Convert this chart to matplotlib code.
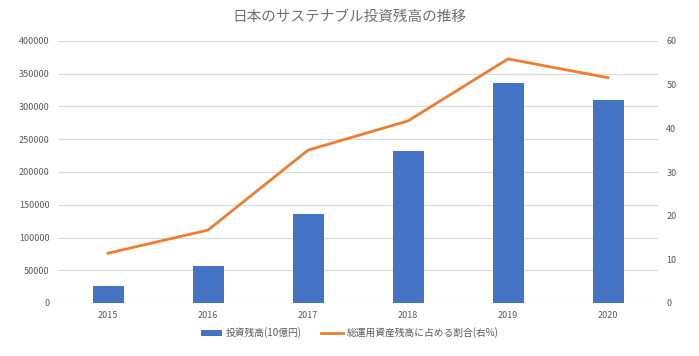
import matplotlib
matplotlib.use("Agg")
import matplotlib.pyplot as plt

plt.rcParams['font.family'] = ['Noto Sans CJK JP', 'DejaVu Sans']

years = ['2015', '2016', '2017', '2018', '2019', '2020']
invest = [26686, 56226, 136596, 231952, 336000, 310039]
share = [11.4, 16.7, 35.0, 41.7, 55.9, 51.6]

gray = '#595959'
fig = plt.figure(figsize=(6.99, 3.56), dpi=100)
ax = fig.add_axes([58/699, 1-303/356, 600/699, 262/356])
ax2 = ax.twinx()

x = list(range(len(years)))
b = ax.bar(x, invest, width=0.31, color='#4472C4', label='投資残高(10億円)', zorder=2)
l, = ax2.plot(x, share, color='#ED7D31', lw=2, label='総運用資産残高に占める割合(右%)', zorder=3)

ax.set_xlim(-0.5, 5.5)
ax.set_ylim(0, 400000)
ax.set_yticks(range(0, 400001, 50000))
ax2.set_ylim(0, 60)
ax2.set_yticks(range(0, 61, 10))
ax.set_xticks(x)
ax.set_xticklabels(years)
ax.grid(axis='y', color='#d9d9d9', lw=0.8, zorder=0)
ax.set_axisbelow(True)

for a in (ax, ax2):
    for s in a.spines.values():
        s.set_visible(False)
    a.tick_params(length=0, labelsize=6.5, labelcolor=gray)
ax.tick_params(axis='y', pad=6)
ax2.tick_params(axis='y', pad=6)
ax.tick_params(axis='x', pad=6)

fig.text(0.5, 1-17/356, '日本のサステナブル投資残高の推移', ha='center', va='center',
         fontsize=10.5, color='#707070')
fig.legend(handles=[b, l], loc='center', bbox_to_anchor=(0.5, 1-333/356), ncol=2,
           frameon=False, fontsize=7, labelcolor=gray, handlelength=2.2,
           handletextpad=0.4, columnspacing=2.0)

fig.savefig('out.png', dpi=100)
